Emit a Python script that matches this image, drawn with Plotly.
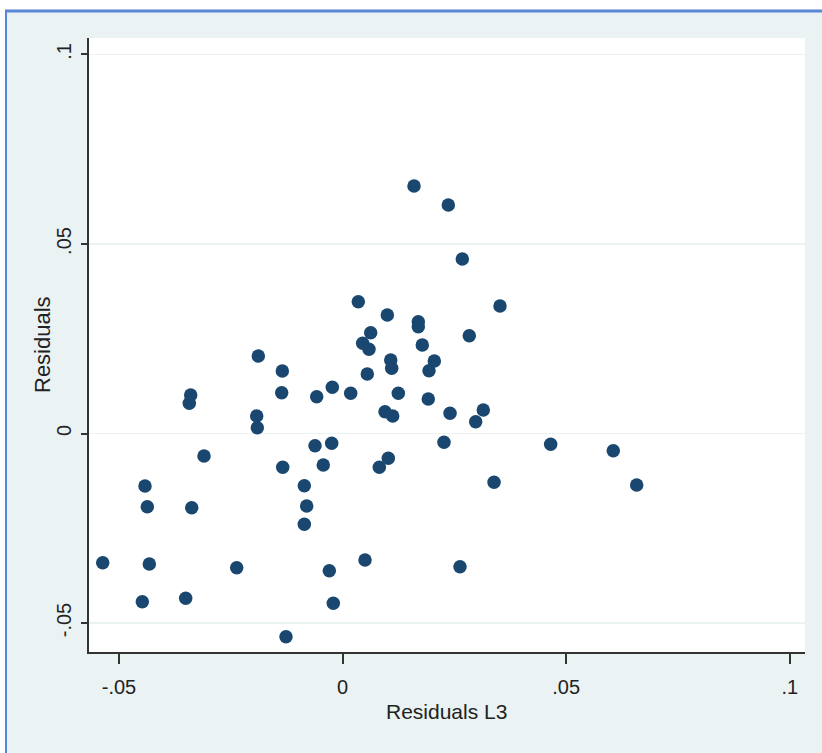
import plotly.graph_objects as go

# Data
resid_l3 = [
    -0.05364, -0.04419, -0.04367, -0.04322, -0.04479, -0.03509, -0.03397, -0.03428,
    -0.03374, -0.03099, -0.02368, -0.01885, -0.01921, -0.01907, -0.01348, -0.01362,
    -0.01339, -0.01266, -0.00856, -0.00803, -0.00856, -0.00617, -0.00579, -0.00432,
    -0.00244, -0.00230, -0.00297, -0.00208, 0.00181, 0.00351, 0.00449, 0.00590,
    0.00628, 0.00552, 0.00501, 0.00821, 0.00948, 0.01000, 0.01076, 0.01098,
    0.01120, 0.01022, 0.01246, 0.01597, 0.01693, 0.01693, 0.01782, 0.01932,
    0.02051, 0.01916, 0.02267, 0.02402, 0.02364, 0.02677, 0.02625, 0.02833,
    0.02976, 0.03146, 0.03386, 0.03520, 0.04653, 0.06053, 0.06576,
]
residuals = [
    -0.03409, -0.01385, -0.01931, -0.03443, -0.04438, -0.04348, 0.01016, 0.00797,
    -0.01958, -0.00594, -0.03541, 0.02045, 0.00462, 0.00153, 0.01649, 0.01077,
    -0.00892, -0.05361, -0.01377, -0.01913, -0.02396, -0.00322, 0.00971, -0.00831,
    -0.00259, 0.01219, -0.03620, -0.04480, 0.01061, 0.03478, 0.02380, 0.02222,
    0.02660, 0.01570, -0.03338, -0.00892, 0.00575, 0.03127, 0.01939, 0.01720,
    0.00462, -0.00654, 0.01061, 0.06530, 0.02950, 0.02818, 0.02335, 0.01657,
    0.01913, 0.00910, -0.00232, 0.00533, 0.06029, 0.04604, -0.03515, 0.02580,
    0.00311, 0.00620, -0.01288, 0.03364, -0.00285, -0.00454, -0.01359,
]

x_tickvals = [-0.05, 0, 0.05, 0.1]
x_ticktext = ["-.05", "0", ".05", ".1"]
y_tickvals = [-0.05, 0, 0.05, 0.1]
y_ticktext = ["-.05", "0", ".05", ".1"]

x_title = "Residuals L3"
y_title = "Residuals"

FONT = "Liberation Sans, Arial, sans-serif"
BG = "#eaf2f3"
NAVY = "#1a476f"
BLUE = "#5a86d6"

fig = go.Figure()
fig.add_trace(go.Scatter(
    x=resid_l3, y=residuals, mode="markers",
    marker=dict(size=13.5, color=NAVY, line=dict(width=0)),
    showlegend=False, hoverinfo="skip",
))

W, H = 822, 753
L, R, T, B = 89, 17, 38, 101
pw, ph = W - L - R, H - T - B

def px(xp):
    return (xp - L) / pw

def py(yp):
    return (H - B - yp) / ph

shapes = [
    dict(type="rect", xref="paper", yref="paper", x0=-0.3, x1=1.3, y0=py(9.5), y1=1.3,
         fillcolor="white", line=dict(width=0), layer="below"),
    dict(type="rect", xref="paper", yref="paper", x0=-0.3, x1=px(5), y0=-0.3, y1=1.3,
         fillcolor="white", line=dict(width=0), layer="below"),
    dict(type="line", xref="paper", yref="paper", x0=px(5), x1=1.3, y0=py(11), y1=py(11),
         line=dict(color=BLUE, width=3), layer="below"),
    dict(type="line", xref="paper", yref="paper", x0=px(6), x1=px(6), y0=-0.3, y1=py(11),
         line=dict(color=BLUE, width=2), layer="below"),
]

annotations = [
    dict(text=x_title, xref="paper", yref="paper", x=px(446), y=py(711),
         xanchor="center", yanchor="middle", showarrow=False,
         font=dict(family=FONT, size=21, color="#222222")),
    dict(text=y_title, xref="paper", yref="paper", x=px(42), y=py(345),
         xanchor="center", yanchor="middle", showarrow=False, textangle=-90,
         font=dict(family=FONT, size=22, color="#222222")),
]

fig.update_layout(
    width=W, height=H,
    margin=dict(l=L, r=R, t=T, b=B, pad=0),
    paper_bgcolor=BG, plot_bgcolor="white",
    shapes=shapes, annotations=annotations,
    font=dict(family=FONT, color="#222222"),
    xaxis=dict(
        range=[-0.05671, 0.10340], tickvals=x_tickvals, ticktext=x_ticktext,
        showgrid=False, zeroline=False, showline=True, linecolor="#333333", linewidth=2,
        ticks="outside", ticklen=10, tickwidth=2, tickcolor="#333333",
        ticklabelstandoff=6,
        tickfont=dict(family=FONT, size=20, color="#222222"),
    ),
    yaxis=dict(
        range=[-0.05765, 0.10435], tickvals=y_tickvals, ticktext=y_ticktext,
        showgrid=True, gridcolor="#ebf2f2", gridwidth=1.5,
        zeroline=False, showline=True, linecolor="#333333", linewidth=2,
        ticks="outside", ticklen=6, tickwidth=2, tickcolor="#333333",
        tickangle=-90, ticklabelstandoff=2,
        tickfont=dict(family=FONT, size=20, color="#222222"),
    ),
)

fig.write_html(
    "out.html",
    config={"displayModeBar": False, "staticPlot": True},
    post_script="document.body.style.margin='0';document.body.style.overflow='hidden';",
)
